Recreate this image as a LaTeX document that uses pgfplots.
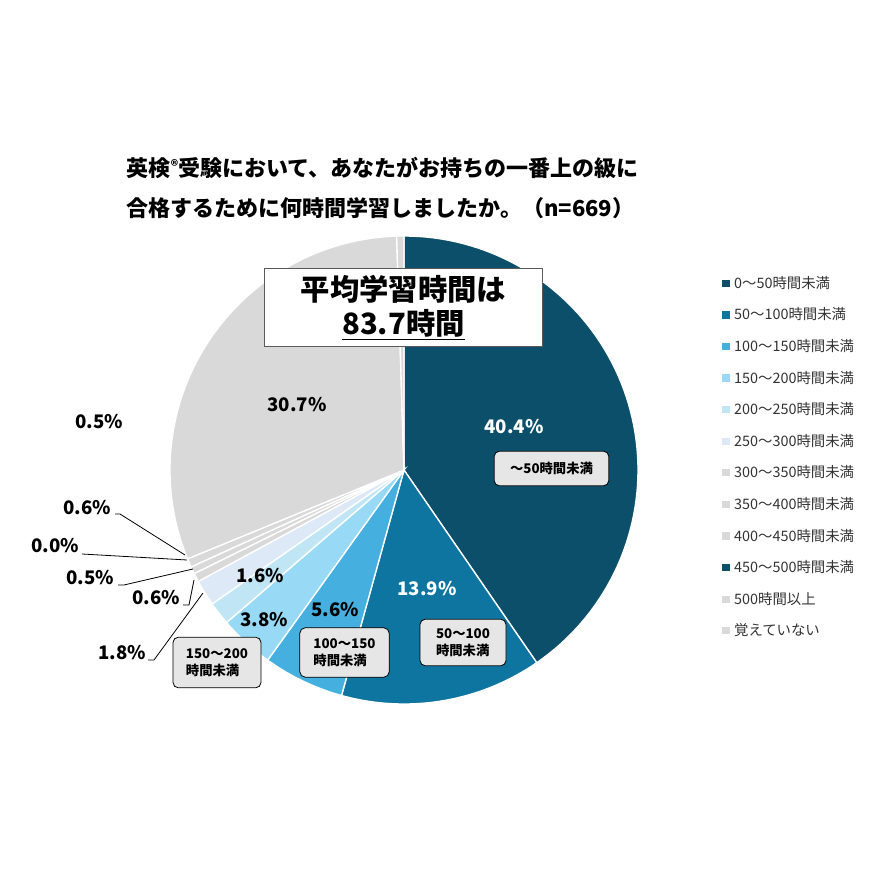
\documentclass[border=0pt]{standalone}
\usepackage{fontspec}
\setmainfont{Noto Sans CJK JP}
\usepackage{pgfplots}
\usepackage{pgfplotstable}
\pgfplotsset{compat=1.18}

\definecolor{c0}{RGB}{12,79,106}
\definecolor{c1}{RGB}{14,116,160}
\definecolor{c2}{RGB}{69,176,223}
\definecolor{c3}{RGB}{152,218,246}
\definecolor{c4}{RGB}{192,229,244}
\definecolor{c5}{RGB}{221,233,246}
\definecolor{cg}{RGB}{217,217,217}
\colorlet{slice0}{c0}\colorlet{slice1}{c1}\colorlet{slice2}{c2}
\colorlet{slice3}{c3}\colorlet{slice4}{c4}\colorlet{slice5}{c5}
\colorlet{slice6}{cg}\colorlet{slice7}{cg}\colorlet{slice8}{cg}
\colorlet{slice9}{cg}\colorlet{slice10}{cg}\colorlet{slice11}{cg}
\definecolor{boxfill}{RGB}{230,230,230}

% share of respondents (%), clockwise from 12 o'clock
\pgfplotstableread{
pct
40.4
13.9
5.6
3.8
1.6
1.8
0.6
0.5
0.0
0.6
30.7
0.5
}\piedata

\newcommand{\lblfont}{\bfseries\fontsize{14}{16}\selectfont}
\newcommand{\boxfont}{\bfseries\fontsize{10}{12.5}\selectfont}

\begin{document}
\begin{tikzpicture}
\useasboundingbox (0,0) rectangle (653.25pt,653.25pt);
\begin{axis}[
  at={(303pt,300.75pt)}, anchor=center,
  scale only axis, width=351pt, height=351pt,
  xmin=-1, xmax=1, ymin=-1, ymax=1,
  hide axis, clip=false,
  legend cell align=left,
  legend image code/.code={\fill[#1, draw=none] (0pt,-2.7pt) rectangle (5.4pt,2.7pt);},
  legend style={at={(1.171,0.923)}, anchor=north west, draw=none, fill=none,
    font=\fontsize{10.8}{12}\selectfont, text=black!80, row sep=11.1pt,
    nodes={inner sep=1pt},
    /tikz/every odd column/.append style={column sep=2.5pt}},
]
\gdef\cumS{0}
\pgfplotsforeachungrouped \i in {0,...,11}{%
  \pgfplotstablegetelem{\i}{pct}\of\piedata
  \let\pctv\pgfplotsretval
  \pgfmathsetmacro\cumE{\cumS+\pctv}%
  \ifdim\pctv pt>0pt
    \edef\cmd{\noexpand\addplot[forget plot, fill=slice\i, draw=white, line width=1pt, domain=\cumS:\cumE, samples=80] ({sin(3.6*x)},{cos(3.6*x)}) -- (axis cs:0,0) -- cycle;}%
    \cmd
  \fi
  \global\let\cumS\cumE
}
\addlegendimage{fill=c0, draw=none}\addlegendentry{0～50時間未満}
\addlegendimage{fill=c1, draw=none}\addlegendentry{50～100時間未満}
\addlegendimage{fill=c2, draw=none}\addlegendentry{100～150時間未満}
\addlegendimage{fill=c3, draw=none}\addlegendentry{150～200時間未満}
\addlegendimage{fill=c4, draw=none}\addlegendentry{200～250時間未満}
\addlegendimage{fill=c5, draw=none}\addlegendentry{250～300時間未満}
\addlegendimage{fill=cg, draw=none}\addlegendentry{300～350時間未満}
\addlegendimage{fill=cg, draw=none}\addlegendentry{350～400時間未満}
\addlegendimage{fill=cg, draw=none}\addlegendentry{400～450時間未満}
\addlegendimage{fill=c0, draw=none}\addlegendentry{450～500時間未満}
\addlegendimage{fill=cg, draw=none}\addlegendentry{500時間以上}
\addlegendimage{fill=cg, draw=none}\addlegendentry{覚えていない}
\end{axis}

\begin{scope}[x=0.75pt,y=0.75pt]
% title
\node[anchor=west, font=\bfseries\fontsize{16.5}{20}\selectfont] at (122,703)
  {英検\raisebox{0.4ex}{\fontsize{11}{12}\selectfont ®}受験において、あなたがお持ちの一番上の級に};
\node[anchor=west, font=\bfseries\fontsize{16.5}{20}\selectfont] at (122,663)
  {合格するために何時間学習しましたか。（n=669）};

% average box
\node[draw=black!65, line width=0.8pt, fill=white, minimum width=209pt, minimum height=59pt,
  align=center, font=\bfseries\fontsize{22}{26}\selectfont] at (403.5,563.5)
  {平均学習時間は\\\underline{83.7時間}};

% percentage labels
\node[font=\lblfont, text=white] at (514,444) {40.4\%};
\node[font=\lblfont, text=white] at (427,282) {13.9\%};
\node[font=\lblfont] at (335,261) {5.6\%};
\node[font=\lblfont] at (264,251) {3.8\%};
\node[font=\lblfont] at (260,295) {1.6\%};
\node[font=\lblfont] at (297,466) {30.7\%};
\node[font=\lblfont] at (122,218) {1.8\%};
\node[font=\lblfont] at (156,273) {0.6\%};
\node[font=\lblfont] at (90,293) {0.5\%};
\node[font=\lblfont] at (55,325) {0.0\%};
\node[font=\lblfont] at (87,363) {0.6\%};
\node[font=\lblfont] at (99,449) {0.5\%};

% leader lines
\draw[black, line width=0.6pt] (148,211) -- (154,211) -- (203,278);
\draw[black, line width=0.6pt] (183,266) -- (189,266) -- (194,291);
\draw[black, line width=0.6pt] (118,286) -- (124,286) -- (193,302);
\draw[black, line width=0.6pt] (82,317) -- (187,311);
\draw[black, line width=0.6pt] (115,357) -- (120,357) -- (185,316);

% category call-out boxes
\node[draw=black, line width=0.6pt, fill=boxfill, rounded corners=4pt, minimum width=86pt,
  minimum height=26pt, font=\boxfont] at (551.5,402.5) {～50時間未満};
\node[draw=black, line width=0.6pt, fill=boxfill, rounded corners=4pt, minimum width=64.5pt,
  minimum height=35pt, align=left, font=\boxfont] at (463,228.5) {50～100\\時間未満};
\node[draw=black, line width=0.6pt, fill=boxfill, rounded corners=4pt, minimum width=67pt,
  minimum height=37pt, align=left, font=\boxfont] at (344.5,218.5) {100～150\\時間未満};
\node[draw=black, line width=0.6pt, fill=boxfill, rounded corners=4pt, minimum width=66pt,
  minimum height=38pt, align=left, font=\boxfont] at (217,208.5) {150～200\\時間未満};
\end{scope}
\end{tikzpicture}
\end{document}
